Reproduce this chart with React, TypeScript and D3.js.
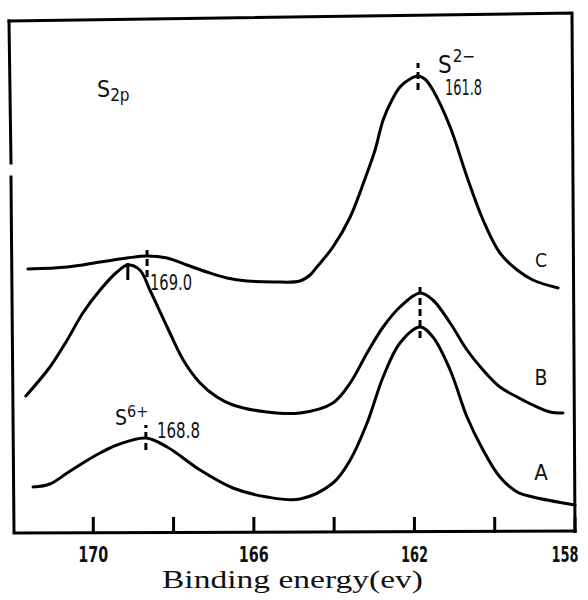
import * as d3 from "d3";

// XPS S2p spectra, binding energy (eV) vs intensity (arb. units)
const curveC_E = [171.63, 170.65, 169.83, 169.16, 168.66, 168.16, 167.67, 167.17, 166.67, 166.17, 165.47, 164.85, 164.6, 164.43, 164.03, 163.6, 163.18, 162.98, 162.78, 162.56, 162.36, 162.11, 161.91, 161.74, 161.54, 161.11, 160.69, 160.29, 159.87, 159.44, 159.05, 158.42];
const curveC_I = [264, 266, 271, 275, 277, 275, 268, 261, 255, 252, 251, 252, 258, 266, 286, 316, 360, 383, 413, 433, 446, 454, 457, 454, 443, 406, 356, 313, 280, 263, 253, 245];

const curveB_E = [171.68, 171.08, 170.65, 170.26, 169.83, 169.41, 169.14, 168.84, 168.59, 168.16, 167.76, 167.34, 166.92, 166.52, 165.67, 164.85, 164.03, 163.6, 163.18, 162.78, 162.36, 161.86, 161.54, 161.11, 160.69, 160.29, 159.87, 159.44, 159.05, 158.62, 158.3];
const curveB_I = [137, 166, 193, 220, 243, 261, 268, 263, 243, 206, 173, 150, 136, 128, 121, 120, 130, 150, 180, 206, 226, 240, 233, 210, 183, 163, 146, 136, 128, 121, 120];

const curveA_E = [171.5, 171.08, 170.65, 170.26, 169.83, 169.41, 168.69, 168.16, 167.34, 166.52, 165.67, 164.85, 164.03, 163.6, 163.18, 162.78, 162.36, 161.86, 161.54, 161.11, 160.69, 160.29, 159.87, 159.44, 159.05, 158.0];
const curveA_I = [46, 49, 60, 70, 80, 88, 95, 86, 63, 45, 36, 34, 50, 73, 110, 156, 190, 206, 196, 163, 116, 83, 56, 41, 36, 28];

const curveNames = ["C", "B", "A"];
const tickValues = [170, 168, 166, 164, 162, 160, 158];
const tickLabels = ["170", "", "166", "", "162", "", "158"];

// peak markers: energy, intensity from/to, dashed?
const markerE = [161.91, 168.66, 169.14, 161.86, 168.69];
const markerI0 = [443, 256, 253, 195, 83];
const markerI1 = [470, 283, 270, 248, 108];
const markerDashed = [true, true, false, true, true];

const W = 588;
const H = 600;
const left = 13, right = 575, top = 17, bottom = 533;

const sans = "'Liberation Sans Narrow', 'DejaVu Sans Condensed', 'Liberation Sans', sans-serif";

export default function App() {
  const x = d3.scaleLinear().domain([172, 158]).range([left, right]);
  const y = d3.scaleLinear().domain([0, 516]).range([bottom, top]);

  const line = d3.line<[number, number]>()
    .x(d => x(d[0]))
    .y(d => y(d[1]))
    .curve(d3.curveCatmullRom.alpha(0.5));

  const series = [
    d3.zip(curveC_E, curveC_I) as [number, number][],
    d3.zip(curveB_E, curveB_I) as [number, number][],
    d3.zip(curveA_E, curveA_I) as [number, number][],
  ];

  const labelY = [267, 385, 480];
  const labelSize = [19, 21, 22];

  return (
    <svg width={W} height={H} style={{ position: "absolute", left: 0, top: 0, background: "#fff" }}>
      {/* frame, slightly skewed like the scan */}
      <g stroke="#000" strokeWidth={3} fill="none" strokeLinecap="square">
        <path d={`M9,21 L572,13 L575,531`} />
        <path d={`M9,21 L11,163`} />
        <path d={`M11,177 L14,533 L575,531`} />
      </g>

      {/* ticks */}
      <g stroke="#000" strokeWidth={3}>
        {tickValues.map(t => (
          <line key={t} x1={x(t)} x2={x(t)} y1={bottom} y2={bottom - 16} />
        ))}
      </g>
      <g fontFamily={sans} fontSize={22} fontWeight="bold" fill="#111">
        {tickValues.map((t, i) => tickLabels[i] ? (
          <text key={t} x={x(t) - (t === 158 ? 10 : 0)} y={562} textAnchor="middle"
            textLength={t === 170 || t === 166 ? 30 : 27} lengthAdjust="spacingAndGlyphs">{tickLabels[i]}</text>
        ) : null)}
      </g>
      <text x={162} y={588} fontFamily="'Liberation Serif', 'DejaVu Serif', serif" fontSize={25}
        textLength={261} lengthAdjust="spacingAndGlyphs" fill="#111">Binding energy(ev)</text>

      {/* spectra */}
      <g fill="none" stroke="#000" strokeWidth={3} strokeLinejoin="round" strokeLinecap="round">
        {series.map((s, i) => <path key={curveNames[i]} d={line(s) ?? ""} />)}
      </g>

      {/* peak markers */}
      <g stroke="#000" strokeWidth={3}>
        {markerE.map((e, i) => (
          <line key={i} x1={x(e)} x2={x(e)} y1={y(markerI0[i])} y2={y(markerI1[i])}
            strokeDasharray={markerDashed[i] ? "7,4" : undefined} />
        ))}
      </g>

      {/* annotations */}
      <g fontFamily={sans} fill="#111">
        <text x={97} y={97} fontSize={23}>S<tspan fontSize={17} dy={4}>2p</tspan></text>
        <text x={438} y={73} fontSize={24}>S<tspan fontSize={17} dy={-11} dx={1}>2−</tspan></text>
        <text x={445} y={95} fontSize={21} textLength={37} lengthAdjust="spacingAndGlyphs">161.8</text>
        <text x={150} y={290} fontSize={22} textLength={42} lengthAdjust="spacingAndGlyphs">169.0</text>
        <text x={115} y={425} fontSize={21}>S<tspan fontSize={16} dy={-8}>6+</tspan></text>
        <text x={157} y={438} fontSize={22} textLength={43} lengthAdjust="spacingAndGlyphs">168.8</text>
        {curveNames.map((n, i) => (
          <text key={n} x={541} y={labelY[i]} fontSize={labelSize[i]} textAnchor="middle">{n}</text>
        ))}
      </g>
    </svg>
  );
}
